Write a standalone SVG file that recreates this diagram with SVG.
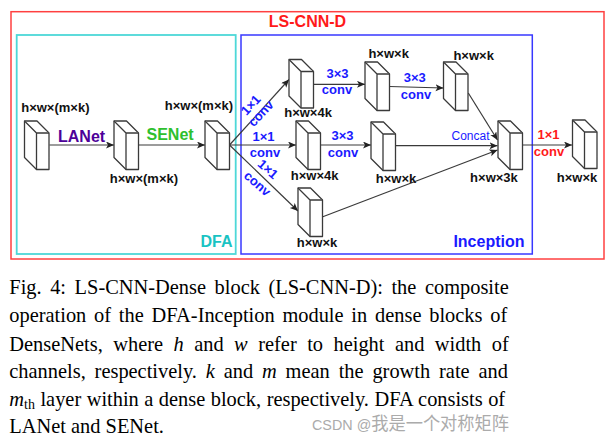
<svg xmlns="http://www.w3.org/2000/svg" xmlns:xlink="http://www.w3.org/1999/xlink" width="612" height="443" viewBox="0 0 612 443">
<style>
.dim{font-family:"Liberation Sans",Arial,sans-serif;font-weight:bold;font-size:13px;fill:#111}
.bl{font-family:"Liberation Sans",Arial,sans-serif;font-weight:bold;font-size:13px;fill:#1a1aff;text-anchor:middle}
.rd{font-family:"Liberation Sans",Arial,sans-serif;font-weight:bold;font-size:13px;fill:#ff1a1a;text-anchor:middle}
.big{font-family:"Liberation Sans",Arial,sans-serif;font-weight:bold;font-size:16px}
.cube{fill:#fff;stroke:#3a3a3a;stroke-width:1.3;stroke-linejoin:round}
.edge{fill:none;stroke:#3a3a3a;stroke-width:1.2}
.cap{font-family:"Liberation Serif","Times New Roman",serif;font-size:20.4px;fill:#000}
.it{font-style:italic}
</style>
<defs>
<g id="cube">
<path class="cube" d="M0,0 L12.5,0 L24.5,12 L24.5,48.5 L12,48.5 L0,36.5 Z"/>
<path class="cube" d="M0,0 L12,12 L24.5,12 M12,12 L12,48.5" fill="none"/>
</g>
<marker id="ah" markerUnits="userSpaceOnUse" markerWidth="9" markerHeight="8" refX="8" refY="3.5" orient="auto">
<path d="M0,0 L8,3.5 L0,7 L2,3.5 Z" fill="#222"/>
</marker>
</defs>
<rect x="11" y="11.7" width="593" height="247.3" fill="none" stroke="#ff4040" stroke-width="1.5"/>
<rect x="16.7" y="35" width="219" height="219" fill="none" stroke="#4dd8d8" stroke-width="1.8"/>
<rect x="241" y="35" width="291.3" height="219" fill="none" stroke="#3838ff" stroke-width="1.5"/>
<text class="big" x="268.8" y="27" fill="#ff1a1a">LS-CNN-D</text>
<text class="big" x="232.5" y="247" fill="#19c3c3" text-anchor="end">DFA</text>
<text class="big" x="524.5" y="247" fill="#1a1aff" text-anchor="end">Inception</text>
<g id="connectors">
<line class="edge" x1="49.5" y1="145" x2="114" y2="145" marker-end="url(#ah)"/>
<line class="edge" x1="138.5" y1="145" x2="205" y2="145" marker-end="url(#ah)"/>
<line class="edge" x1="229.5" y1="145" x2="289" y2="79.5" marker-end="url(#ah)"/>
<line class="edge" x1="229.5" y1="145" x2="296" y2="145" marker-end="url(#ah)"/>
<line class="edge" x1="229.5" y1="145" x2="298" y2="211" marker-end="url(#ah)"/>
<line class="edge" x1="313.5" y1="84.3" x2="365" y2="84.3" marker-end="url(#ah)"/>
<line class="edge" x1="320" y1="145" x2="371" y2="145" marker-end="url(#ah)"/>
<line class="edge" x1="389.5" y1="86.5" x2="443.5" y2="88" marker-end="url(#ah)"/>
<line class="edge" x1="468.3" y1="93" x2="497.5" y2="140" marker-end="url(#ah)"/>
<line class="edge" x1="394" y1="145.7" x2="497.5" y2="145.7" marker-end="url(#ah)"/>
<line class="edge" x1="321.5" y1="217.3" x2="497.5" y2="150" marker-end="url(#ah)"/>
<line class="edge" x1="522" y1="145" x2="572" y2="145" marker-end="url(#ah)"/>
<text class="big" x="58" y="141.7" fill="#4d0099">LANet</text>
<text class="big" x="146.5" y="140" fill="#2ec02e">SENet</text>
<text class="bl" transform="translate(254,108) rotate(-47)">1×1</text>
<text class="bl" transform="translate(264,116.5) rotate(-47)">conv</text>
<text class="bl" x="263.5" y="141">1×1</text>
<text class="bl" x="265" y="156.5">conv</text>
<text class="bl" transform="translate(265,172.5) rotate(41)">1×1</text>
<text class="bl" transform="translate(254.5,187) rotate(41)">conv</text>
<text class="bl" x="337.5" y="77.5">3×3</text>
<text class="bl" x="337" y="93.5">conv</text>
<text class="bl" x="342.5" y="140">3×3</text>
<text class="bl" x="343" y="156.5">conv</text>
<text class="bl" x="414.7" y="82">3×3</text>
<text class="bl" x="416" y="99.3">conv</text>
<text x="451.5" y="140" font-family="Liberation Sans,Arial,sans-serif" font-size="12" fill="#1a1aff">Concat</text>
<text class="rd" x="548.5" y="138.5">1×1</text>
<text class="rd" x="549" y="156">conv</text>
</g>
<g id="n1"><use xlink:href="#cube" x="24.5" y="121"/><text class="dim" x="21.2" y="111.7">h×w×(m×k)</text></g>
<g id="n2"><use xlink:href="#cube" x="114" y="121"/><text class="dim" x="109.8" y="182.7">h×w×(m×k)</text></g>
<g id="n3"><use xlink:href="#cube" x="205" y="121"/><text class="dim" x="164.8" y="110">h×w×(m×k)</text></g>
<g id="n4"><use xlink:href="#cube" x="289" y="59.5"/><text class="dim" x="284.2" y="117.3">h×w×4k</text></g>
<g id="n5"><use xlink:href="#cube" x="296" y="121"/><text class="dim" x="290.8" y="180">h×w×4k</text></g>
<g id="n6"><use xlink:href="#cube" x="298" y="188"/><text class="dim" x="296.8" y="246.7">h×w×k</text></g>
<g id="n7"><use xlink:href="#cube" x="365" y="62"/><text class="dim" x="368.4" y="58.3">h×w×k</text></g>
<g id="n8"><use xlink:href="#cube" x="371" y="122"/><text class="dim" x="375.8" y="183.3">h×w×k</text></g>
<g id="n9"><use xlink:href="#cube" x="443.5" y="62"/><text class="dim" x="453.4" y="60">h×w×k</text></g>
<g id="n10"><use xlink:href="#cube" x="498" y="121"/><text class="dim" x="470.1" y="181.7">h×w×3k</text></g>
<g id="n11"><use xlink:href="#cube" x="572.5" y="120"/><text class="dim" x="556.8" y="181.7">h×w×k</text></g>
<text class="cap" x="9.3" y="294.3" word-spacing="3.48">Fig. 4: LS-CNN-Dense block (LS-CNN-D): the composite</text>
<text class="cap" x="9.3" y="322.3" word-spacing="2.69">operation of the DFA-Inception module in dense blocks of</text>
<text class="cap" x="9.3" y="350.7" word-spacing="5.38">DenseNets, where <tspan class="it">h</tspan> and <tspan class="it">w</tspan> refer to height and width of</text>
<text class="cap" x="9.3" y="378.3" word-spacing="3.77">channels, respectively. <tspan class="it">k</tspan> and <tspan class="it">m</tspan> mean the growth rate and</text>
<text class="cap" x="9.3" y="405.7" word-spacing="0.4"><tspan class="it">m</tspan><tspan font-size="14" dy="3">th</tspan><tspan dy="-3"> layer within a dense block, respectively. DFA consists of</tspan></text>
<text class="cap" x="9.3" y="433.3">LANet and SENet.</text>
<text x="312" y="430" textLength="197" lengthAdjust="spacingAndGlyphs" font-family="Liberation Sans,Arial,sans-serif" font-size="15" fill="#ababab">CSDN @<tspan font-family="Noto Sans CJK SC,sans-serif" font-size="18">我是一个对称矩阵</tspan></text>
</svg>
